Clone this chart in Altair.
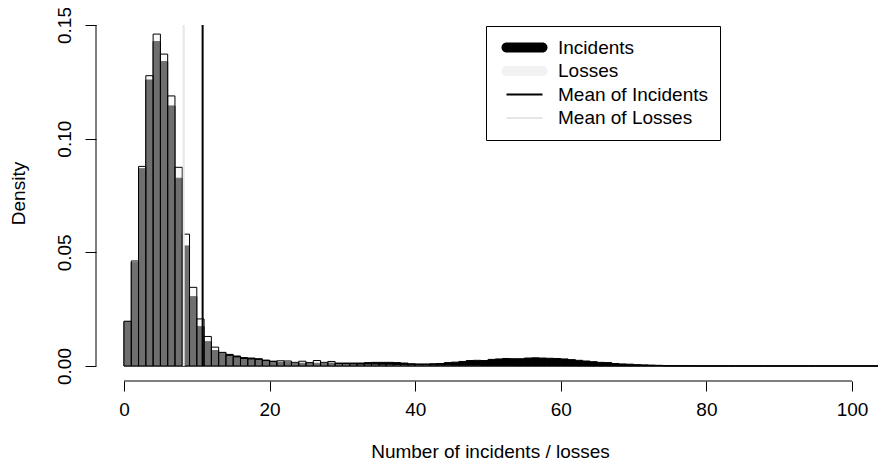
import altair as alt
import pandas as pd

# ---------------- data ----------------
bin_starts = list(range(0, 106))

incidents = [
    0.0195, 0.0455, 0.0868, 0.1258, 0.1427, 0.1339, 0.1144, 0.0826, 0.0528, 0.0305,
    0.0173, 0.0107, 0.0068, 0.0058, 0.0051, 0.0044, 0.0037, 0.0035, 0.0032, 0.0026,
    0.0021, 0.0016, 0.0016, 0.0011, 0.0012, 0.0011, 0.0012, 0.0011, 0.0013, 0.0013,
    0.0013, 0.0013, 0.0013, 0.0015, 0.0016, 0.0016, 0.0016, 0.0015, 0.0013, 0.0010,
    0.0009, 0.0009, 0.0010, 0.0011, 0.0015, 0.0017, 0.0020, 0.0024, 0.0025, 0.0024,
    0.0029, 0.0031, 0.0033, 0.0032, 0.0032, 0.0035, 0.0036, 0.0035, 0.0034, 0.0033,
    0.0031, 0.0028, 0.0025, 0.0022, 0.0019, 0.0016, 0.0015, 0.0011, 0.0009, 0.0008,
    0.0006, 0.0005, 0.0004, 0.0003, 0.0002, 0.00015, 0.0001, 0.0001, 0.00005, 0.0,
    0.0, 0.0, 0.0, 0.0, 0.0, 0.0, 0.0, 0.0, 0.0, 0.0,
    0.0, 0.0, 0.0, 0.0, 0.0, 0.0, 0.0, 0.0, 0.0, 0.0,
    0.0, 0.0, 0.0, 0.0, 0.0, 0.0,
]

losses = [
    0.0197, 0.0462, 0.0878, 0.1277, 0.1460, 0.1372, 0.1188, 0.0874, 0.0580, 0.0346,
    0.0207, 0.0130, 0.0083, 0.0060, 0.0047, 0.0040, 0.0033, 0.0031, 0.0029, 0.0024,
    0.0020, 0.0023, 0.0022, 0.0016, 0.0021, 0.0015, 0.0024, 0.0016, 0.0020, 0.0011,
    0.0011, 0.0010, 0.0009, 0.0009, 0.0009, 0.0008, 0.0008, 0.0007, 0.0007, 0.0006,
    0.0006, 0.0006, 0.0005, 0.0005, 0.0005, 0.0004, 0.0004, 0.0004, 0.0004, 0.0003,
    0.0003, 0.0003, 0.0003, 0.0003, 0.0002, 0.0002, 0.0002, 0.0002, 0.0002, 0.0002,
    0.0002, 0.00015, 0.00015, 0.00015, 0.0001, 0.0001, 0.0001, 0.0001, 0.0001, 0.0001,
    0.0001, 0.0001, 0.0001, 0.0001, 0.0, 0.0, 0.0, 0.0, 0.0, 0.0,
    0.0, 0.0, 0.0, 0.0, 0.0, 0.0, 0.0, 0.0, 0.0, 0.0,
    0.0, 0.0, 0.0, 0.0, 0.0, 0.0, 0.0, 0.0, 0.0, 0.0,
    0.0, 0.0, 0.0, 0.0, 0.0, 0.0,
]

mean_values = [10.8, 8.2]          # Mean of Incidents, Mean of Losses

series_names = ["Incidents", "Losses", "Mean of Incidents", "Mean of Losses"]
series_colors = ["#000000", "#f2f2f2", "#000000", "#e6e6e6"]

x_ticks = [0, 20, 40, 60, 80, 100]
y_ticks = [0.0, 0.05, 0.10, 0.15]

# ---------------- tables ----------------
hist = pd.DataFrame({
    "start": bin_starts,
    "end": [b + 1 for b in bin_starts],
    "incidents": incidents,
    "losses": losses,
    "base": [0.0] * len(bin_starts),
})
means = pd.DataFrame({
    "series": series_names[2:],
    "col": series_colors[2:],
    "x": mean_values,
    "top": [y_ticks[-1]] * 2,
    "bot": [y_ticks[0]] * 2,
})
xaxis_line = pd.DataFrame({"a": [x_ticks[0]], "b": [x_ticks[-1]]})
yaxis_line = pd.DataFrame({"a": [y_ticks[0]], "b": [y_ticks[-1]]})

W, H = 782, 356
FONT = "Liberation Sans"
XTITLE = "Number of incidents / losses"
YTITLE = "Density"

xscale = alt.Scale(domain=[-3.846, 103.57], nice=False, zero=False)
yscale = alt.Scale(domain=[-0.0066, 0.15], nice=False, zero=False)
color_scale = alt.Scale(domain=series_names, range=series_colors)

x_axis = alt.Axis(
    values=x_ticks, domain=False, grid=False, tickSize=10, tickColor="black",
    tickWidth=1, labelFontSize=19, labelFont=FONT, labelColor="black",
    labelPadding=9, labelFlush=False, labelOverlap=False,
    title=XTITLE, titleFont=FONT, titleFontSize=19,
    titleFontWeight="normal", titleColor="black",
    titleX=394, titleY=70, titleAlign="center", titleBaseline="middle",
)
y_axis = alt.Axis(
    values=y_ticks, format=".2f", domain=False, grid=False, tickSize=11,
    tickColor="black", tickWidth=1, labelFontSize=19, labelFont=FONT,
    labelColor="black", labelAngle=270, labelAlign="center",
    labelBaseline="middle", labelPadding=21, labelFlush=False, labelOverlap=False,
    title=YTITLE, titleFont=FONT, titleFontSize=19, titleFontWeight="normal",
    titleColor="black", titleX=-78, titleY=168, titleAlign="center",
    titleBaseline="middle", titleAngle=270,
)

# legend symbols: thick rounded bar for the histograms, thin line for the means
THICK = "M-2,-0.556H2A0.556,0.556 0 0 1 2,0.556H-2A0.556,0.556 0 0 1 -2,-0.556Z"
THIN = "M-2,-0.111H2V0.111H-2Z"
thick_test = " || ".join(f"datum.value == '{n}'" for n in series_names[:2])

legend = alt.Legend(
    title=None, orient="none", legendX=390, legendY=1,
    strokeColor="black", fillColor="white", padding=12,
    symbolType=alt.ExprRef(expr=f"({thick_test}) ? '{THICK}' : '{THIN}'"),
    symbolSize=324, symbolOffset=17, symbolStrokeWidth=0,
    labelFontSize=19, labelFont=FONT, labelColor="black", labelOffset=24,
    rowPadding=3.5, labelLimit=0, symbolOpacity=1,
)


def X(field):
    return alt.X(field, scale=xscale, axis=x_axis, title=XTITLE)


def Y(field):
    return alt.Y(field, scale=yscale, axis=y_axis, title=YTITLE)


def COLOR():
    return alt.Color("series:N", scale=color_scale, legend=legend, title=None)


inc_fill = alt.Chart(hist).transform_calculate(
    series=f"'{series_names[0]}'"
).mark_bar(clip=True, strokeWidth=0).encode(
    x=X("start:Q"), x2="end:Q", y=Y("incidents:Q"), y2="base:Q", color=COLOR(),
)
inc_edge = alt.Chart(hist).mark_bar(
    clip=True, fill="#000000", fillOpacity=0, stroke="#000000", strokeWidth=1
).encode(x=X("start:Q"), x2="end:Q", y=Y("incidents:Q"), y2="base:Q")

loss_fill = alt.Chart(hist).transform_calculate(
    series=f"'{series_names[1]}'"
).mark_bar(clip=True, strokeWidth=0, fillOpacity=0.46).encode(
    x=X("start:Q"), x2="end:Q", y=Y("losses:Q"), y2="base:Q", color=COLOR(),
)
loss_edge = alt.Chart(hist).mark_bar(
    clip=True, fill="#000000", fillOpacity=0, stroke="#000000", strokeWidth=1
).encode(x=X("start:Q"), x2="end:Q", y=Y("losses:Q"), y2="base:Q")

mean_rules = alt.Chart(means).mark_rule(clip=True, strokeWidth=2).encode(
    x=X("x:Q"), y=Y("top:Q"), y2="bot:Q",
    color=alt.Color("col:N", scale=None),
)

x_line = alt.Chart(xaxis_line).mark_rule(color="black", strokeWidth=1).encode(
    x=X("a:Q"), x2="b:Q", y=alt.value(H)
)
y_line = alt.Chart(yaxis_line).mark_rule(color="black", strokeWidth=1).encode(
    y=Y("a:Q"), y2="b:Q", x=alt.value(0)
)

chart = alt.layer(
    inc_fill, inc_edge, loss_fill, loss_edge, mean_rules, x_line, y_line
).properties(
    width=W, height=H,
    padding={"left": 88, "top": 17, "right": 0, "bottom": 79},
    autosize=alt.AutoSizeParams(type="none"),
    background="white",
).configure_view(stroke=None)

chart.save("out.html", embed_options={"renderer": "svg", "actions": False})
